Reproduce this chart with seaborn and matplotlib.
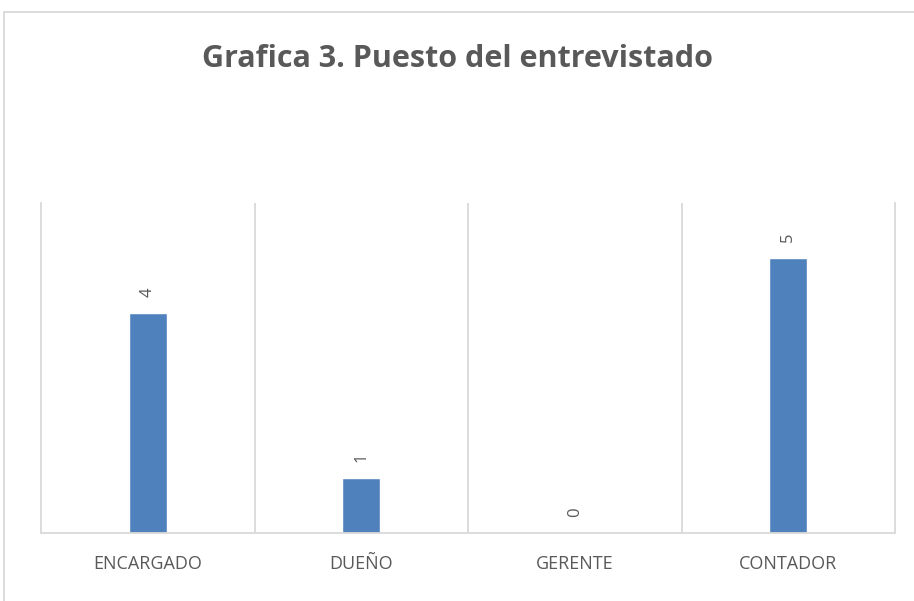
import pandas as pd
import matplotlib.pyplot as plt
import seaborn as sns
from matplotlib.patches import Rectangle

puestos = ["ENCARGADO", "DUEÑO", "GERENTE", "CONTADOR"]
cantidad = [4, 1, 0, 5]

df = pd.DataFrame({"puesto": puestos, "cantidad": cantidad})

sns.set_style("white")
plt.rcParams['font.family'] = ['Open Sans', 'DejaVu Sans']

grid_color = "#D9D9D9"
text_color = "#595959"
bar_color = "#4F81BD"

fig = plt.figure(figsize=(9.14, 6.01), dpi=100)
ax = fig.add_axes([41 / 914, 1 - 533 / 601, 854 / 914, 330 / 601])

sns.barplot(data=df, x="puesto", y="cantidad", color=bar_color, width=0.18,
            saturation=1, ax=ax)

ax.set_xlim(-0.5, len(puestos) - 0.5)
ax.set_ylim(0, 6)
ax.set_yticks([])
ax.set_xlabel("")
ax.set_ylabel("")

# separadores entre categorias
ax.set_xticks([i + 0.5 for i in range(len(puestos) - 1)], minor=True)
ax.grid(which="minor", axis="x", color=grid_color, linewidth=1.3)
ax.tick_params(axis="x", which="both", length=0, pad=16, labelsize=13,
               labelcolor=text_color)

for side in ["left", "right", "bottom"]:
    ax.spines[side].set_color(grid_color)
    ax.spines[side].set_linewidth(1.3)
ax.spines["top"].set_visible(False)

# etiquetas de valor rotadas
for i, v in enumerate(cantidad):
    ax.annotate(str(v), xy=(i, v), xytext=(0, 15), textcoords="offset points",
                rotation=90, ha="center", va="center", fontsize=12,
                color=text_color)

fig.text(0.5, 1 - 59 / 601, "Grafica 3. Puesto del entrevistado",
         ha="center", va="center", fontsize=22, fontweight="bold",
         color=text_color)

# borde exterior del grafico
fig.patches.append(Rectangle((4 / 914, -0.05), 1.0, 1 - 12 / 601 + 0.05,
                             transform=fig.transFigure, fill=False,
                             edgecolor=grid_color, linewidth=1.3))

plt.savefig("out.png", dpi=100)
plt.close()
